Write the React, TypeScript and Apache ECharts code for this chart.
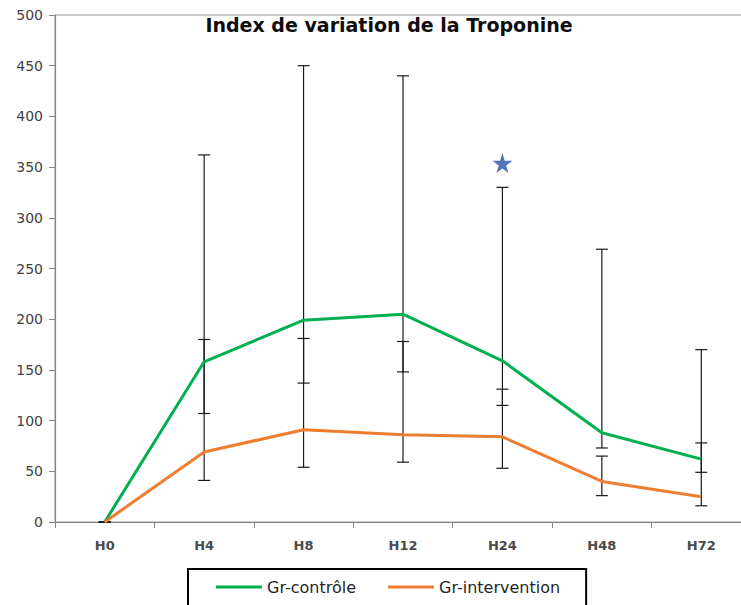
import React, { useEffect, useRef } from "react";
import * as echarts from "echarts";

const categories = ["H0", "H4", "H8", "H12", "H24", "H48", "H72"];
const controle = [0, 158, 199, 205, 159, 88, 62];
const intervention = [0, 69, 91, 86, 84, 40, 25];
const controleErrLow = [0, 107, 137, 148, 115, 73, 49];
const controleErrHigh = [0, 362, 450, 440, 330, 269, 170];
const interventionErrLow = [0, 41, 54, 59, 53, 26, 16];
const interventionErrHigh = [0, 180, 181, 178, 131, 65, 78];
const starPoint = [["H24", 354]];
const yTicks = { min: 0, max: 500, interval: 50 };

const FONT = "DejaVu Sans";

export default function App() {
  const ref = useRef<HTMLDivElement>(null);
  useEffect(() => {
    document.body.style.margin = "0";
    if (!ref.current) return;
    const chart = echarts.init(ref.current, null, { renderer: "svg" });

    const errSeries = (name: string, low: number[], high: number[]) => ({
      type: "custom",
      name,
      z: 1,
      data: categories.map((_, i) => [i, low[i], high[i]]),
      encode: { x: 0, y: [1, 2] },
      renderItem: (params: any, api: any) => {
        const x = api.value(0);
        const lo = api.coord([x, api.value(1)]);
        const hi = api.coord([x, api.value(2)]);
        const half = 6;
        const st = { stroke: "#1a1a1a", lineWidth: 1.2 };
        return {
          type: "group",
          children: [
            { type: "line", shape: { x1: lo[0], y1: lo[1], x2: hi[0], y2: hi[1] }, style: st },
            { type: "line", shape: { x1: lo[0] - half, y1: lo[1], x2: lo[0] + half, y2: lo[1] }, style: st },
            { type: "line", shape: { x1: hi[0] - half, y1: hi[1], x2: hi[0] + half, y2: hi[1] }, style: st },
          ],
        };
      },
    });

    chart.setOption({
      animation: false,
      title: {
        text: "Index de variation de la Troponine",
        left: 384,
        top: 10,
        textAlign: "center",
        textStyle: { fontFamily: FONT, fontWeight: "bold", fontSize: 19, color: "#0d0d0d" },
      },
      grid: {
        left: 55,
        top: 15,
        width: 696,
        height: 507,
        outerBoundsMode: "none",
        containLabel: false,
        show: true,
        borderColor: "#9a9a9a",
        borderWidth: 1,
      },
      legend: {
        data: ["Gr-contrôle", "Gr-intervention"],
        left: 188,
        top: 569,
        orient: "horizontal",
        borderColor: "#000",
        borderWidth: 2,
        padding: [10, 26, 12, 28],
        itemWidth: 46,
        itemHeight: 3,
        itemGap: 32,
        icon: "rect",
        textStyle: { fontFamily: FONT, fontSize: 16, color: "#262626" },
      },
      xAxis: {
        type: "category",
        data: categories,
        boundaryGap: true,
        axisLine: { lineStyle: { color: "#868686", width: 1.2 } },
        axisTick: { show: true, length: 6, inside: false, lineStyle: { color: "#868686" } },
        axisLabel: { margin: 17, fontFamily: FONT, fontSize: 13, fontWeight: "bold", color: "#4a4a4a" },
        splitLine: { show: false },
      },
      yAxis: {
        type: "value",
        min: yTicks.min,
        max: yTicks.max,
        interval: yTicks.interval,
        axisLine: { show: true, lineStyle: { color: "#868686", width: 1.2 } },
        axisTick: { show: true, length: 6, inside: false, lineStyle: { color: "#868686" } },
        axisLabel: { margin: 12, fontFamily: FONT, fontSize: 14, color: "#404040" },
        splitLine: { show: false },
      },
      series: [
        errSeries("err-controle", controleErrLow, controleErrHigh),
        errSeries("err-intervention", interventionErrLow, interventionErrHigh),
        {
          type: "line",
          name: "Gr-contrôle",
          data: controle,
          z: 3,
          symbol: "none",
          itemStyle: { color: "#00B050" },
          lineStyle: { color: "#00B050", width: 3 },
        },
        {
          type: "line",
          name: "Gr-intervention",
          data: intervention,
          z: 3,
          symbol: "none",
          itemStyle: { color: "#ED7D31" },
          lineStyle: { color: "#ED7D31", width: 3 },
        },
        {
          type: "scatter",
          name: "star",
          data: starPoint,
          z: 4,
          symbol: "path://M50,0 L61,35 L98,35 L68,57 L79,91 L50,70 L21,91 L32,57 L2,35 L39,35 Z",
          symbolSize: 20,
          itemStyle: { color: "#2B52A8" },
        },
      ],
    });
    return () => chart.dispose();
  }, []);
  return <div ref={ref} style={{ width: 741, height: 605 }} />;
}
